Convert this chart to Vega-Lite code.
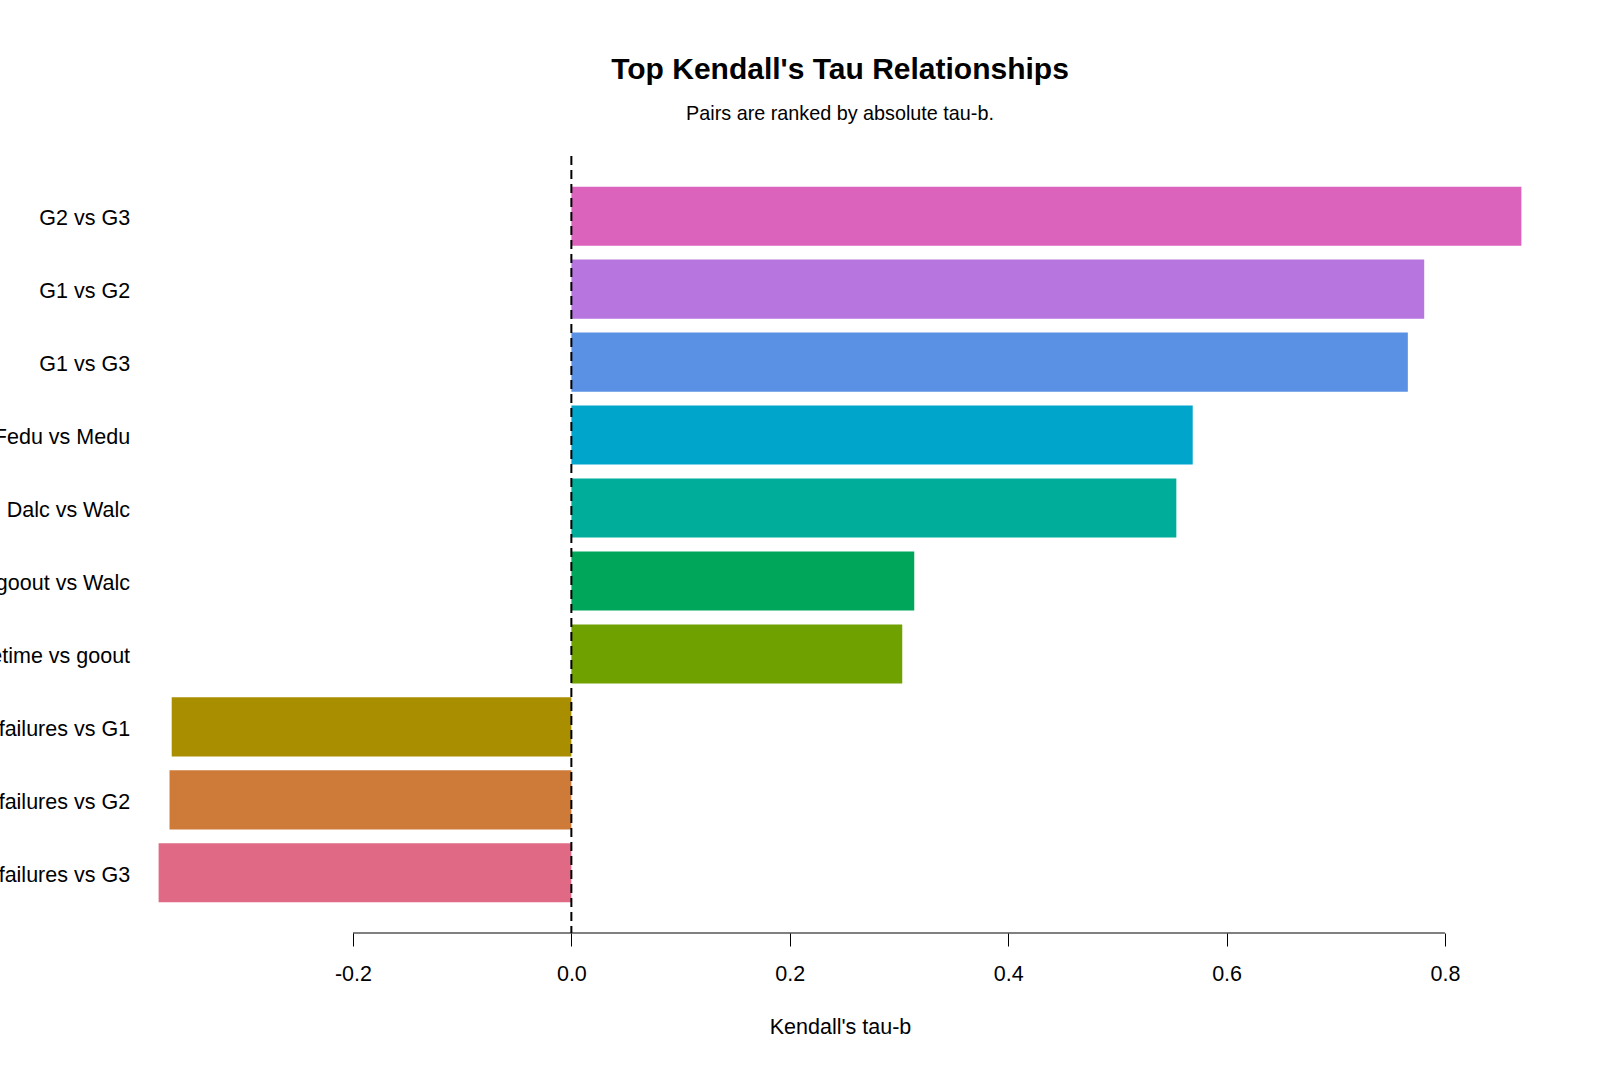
{
  "$schema": "https://vega.github.io/schema/vega-lite/v6.json",
  "autosize": {"type": "none"},
  "width": 1472,
  "height": 777,
  "padding": {"left": 104, "top": 156, "right": 24, "bottom": 158},
  "background": "white",
  "title": {
    "text": "Top Kendall's Tau Relationships",
    "subtitle": "Pairs are ranked by absolute tau-b.",
    "anchor": "middle",
    "frame": "group",
    "font": "Liberation Sans",
    "fontSize": 30,
    "fontWeight": "bold",
    "color": "black",
    "subtitleFont": "Liberation Sans",
    "subtitleFontSize": 19.8,
    "subtitleColor": "black",
    "subtitlePadding": 19,
    "offset": 31
  },
  "datasets": {
    "pairs": [
      {"pair": "G2 vs G3", "tau": 0.870},
      {"pair": "G1 vs G2", "tau": 0.781},
      {"pair": "G1 vs G3", "tau": 0.766},
      {"pair": "Fedu vs Medu", "tau": 0.569},
      {"pair": "Dalc vs Walc", "tau": 0.554},
      {"pair": "goout vs Walc", "tau": 0.314},
      {"pair": "freetime vs goout", "tau": 0.303},
      {"pair": "failures vs G1", "tau": -0.366},
      {"pair": "failures vs G2", "tau": -0.368},
      {"pair": "failures vs G3", "tau": -0.378}
    ]
  },
  "layer": [
    {
      "data": {"name": "pairs"},
      "mark": {"type": "bar"},
      "encoding": {
        "y": {
          "field": "pair",
          "type": "nominal",
          "sort": null,
          "scale": {"paddingInner": 0.19, "paddingOuter": 0.42},
          "axis": {
            "title": null,
            "domain": false,
            "ticks": false,
            "tickSize": 0,
            "labelPadding": -25.6,
            "labelOffset": 3,
            "labelFont": "Liberation Sans",
            "labelFontSize": 21.5,
            "labelColor": "black",
            "labelLimit": 400
          }
        },
        "x": {
          "field": "tau",
          "type": "quantitative",
          "scale": {"domain": [-0.428, 0.92], "nice": false, "zero": false},
          "axis": {
            "title": "Kendall's tau-b",
            "values": [-0.2, 0, 0.2, 0.4, 0.6, 0.8],
            "labelExpr": "replace(format(datum.value, '.1f'), '\u2212', '-')",
            "domain": false,
            "grid": false,
            "ticks": true,
            "tickSize": 13,
            "tickColor": "black",
            "tickWidth": 1,
            "labelPadding": 17.5,
            "labelFont": "Liberation Sans",
            "labelFontSize": 21.5,
            "labelColor": "black",
            "titleFont": "Liberation Sans",
            "titleFontSize": 21.5,
            "titleFontWeight": "normal",
            "titleColor": "black",
            "titlePadding": 31
          }
        },
        "color": {
          "field": "pair",
          "type": "nominal",
          "legend": null,
          "scale": {
            "domain": ["G2 vs G3", "G1 vs G2", "G1 vs G3", "Fedu vs Medu", "Dalc vs Walc", "goout vs Walc", "freetime vs goout", "failures vs G1", "failures vs G2", "failures vs G3"],
            "range": ["#DB63BB", "#B775E0", "#5A91E4", "#00A5CC", "#00AD9A", "#00A75A", "#6FA100", "#A98E00", "#CE7B3A", "#E06A86"]
          }
        }
      }
    },
    {
      "data": {"values": [{}]},
      "mark": {"type": "rule", "color": "black", "strokeWidth": 2, "strokeDash": [9, 5]},
      "encoding": {
        "x": {"datum": 0, "type": "quantitative"}
      }
    },
    {
      "data": {"values": [{}]},
      "mark": {"type": "rule", "color": "black", "strokeWidth": 1},
      "encoding": {
        "x": {"datum": -0.2, "type": "quantitative"},
        "x2": {"datum": 0.8},
        "y": {"datum": 0, "type": "quantitative", "scale": {"domain": [0, 1]}, "axis": null}
      }
    }
  ],
  "resolve": {"scale": {"y": "independent"}, "axis": {"y": "independent"}},
  "config": {
    "view": {"stroke": null},
    "font": "Liberation Sans"
  }
}
